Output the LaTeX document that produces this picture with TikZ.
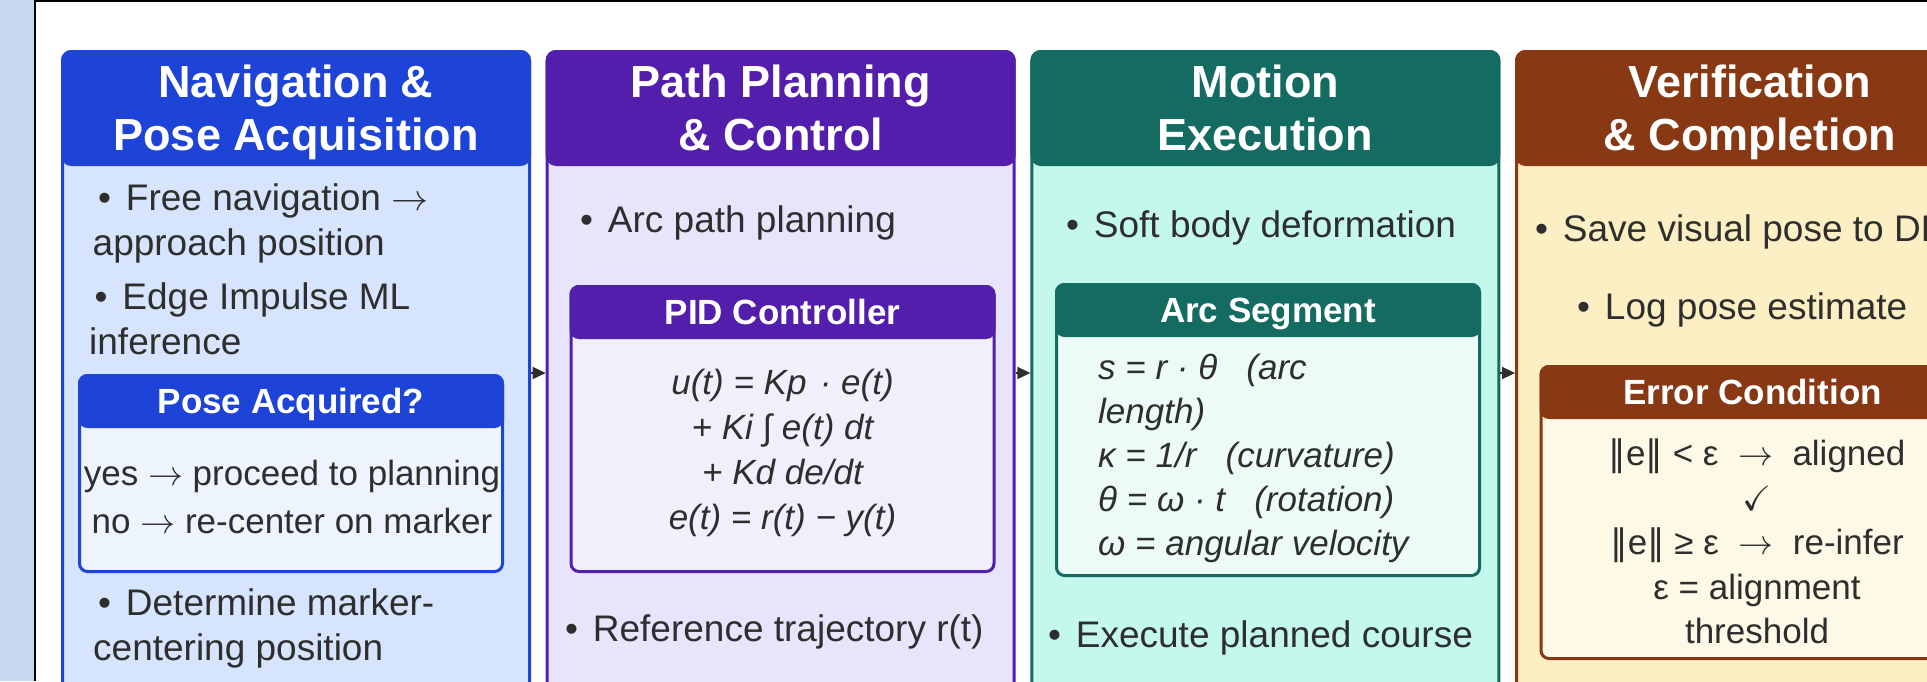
\RequirePackage{fix-cm}
\documentclass[tikz,border=0pt]{standalone}
\usepackage{amssymb}
\usepackage{fontspec}
\setmainfont{Liberation Sans}
\newfontfamily\symfont{DejaVu Sans}
\usetikzlibrary{positioning, arrows.meta}
\definecolor{ink}{HTML}{2E2E2E}
\definecolor{strip}{HTML}{C6D9F1}
\definecolor{navhd}{HTML}{1D44D6}
\definecolor{navbg}{HTML}{D6E5FD}
\definecolor{navin}{HTML}{EDF4FE}
\definecolor{plnhd}{HTML}{531EAB}
\definecolor{plnbg}{HTML}{E8E4FB}
\definecolor{plnin}{HTML}{F1EFFC}
\definecolor{exehd}{HTML}{136B61}
\definecolor{exebg}{HTML}{C4F8EC}
\definecolor{exein}{HTML}{ECFBF7}
\definecolor{verhd}{HTML}{883913}
\definecolor{verbg}{HTML}{FDEFC4}
\definecolor{verin}{HTML}{FEF8E6}
\tikzset{
  panel/.style  = {rectangle, rounded corners=9pt, draw=#1hd, fill=#1bg, line width=3pt,
                   minimum width=467pt, minimum height=643pt, inner sep=0pt},
  phead/.style  = {rectangle, rounded corners=9pt, draw=#1hd, fill=#1hd, line width=3pt,
                   minimum width=467pt, minimum height=113pt, inner sep=0pt, anchor=north},
  ptitle/.style = {text=white, font=\fontsize{45}{53}\selectfont\bfseries, align=center,
                   inner sep=0pt},
  bul/.style    = {text=ink, font=\fontsize{37}{45}\selectfont, align=left, inner sep=0pt,
                   anchor=north west},
  sbox/.style   = {rectangle, rounded corners=8pt, draw=#1hd, fill=#1in, line width=3pt,
                   minimum width=423pt, inner sep=0pt, anchor=north},
  shead/.style  = {rectangle, rounded corners=8pt, draw=#1hd, fill=#1hd, line width=3pt,
                   minimum width=423pt, minimum height=51pt, inner sep=0pt, anchor=north,
                   text=white, font=\fontsize{35}{42}\selectfont\bfseries,
                   text height=25pt, text depth=0pt},
  sline/.style  = {text=ink, font=\fontsize{35}{44.5}\selectfont, align=center,
                   inner sep=0pt, anchor=north},
  flow/.style   = {-{Triangle[length=13pt, width=12pt]}, line width=1.5pt, draw=ink},
}
\newcommand{\blt}{\textbullet\hspace{0.4em}}
\newcommand{\ra}{$\rightarrow$}
\newcommand{\nrm}{{\symfont ‖}}

\begin{document}
\begin{tikzpicture}[x=1pt, y=-1pt]
  \useasboundingbox (0,0) rectangle (1927,681);
  \clip (0,0) rectangle (1927,681);
  \fill[strip] (0,0) rectangle (34,681);
  \draw[line width=2.2pt] (35,681) -- (35,1.1) -- (1927,1.1);

  % the four stages
  \node[panel=nav, anchor=north west] (nav) at (61,50) {};
  \node[panel=pln, right=14.7pt of nav] (pln) {};
  \node[panel=exe, right=14.7pt of pln] (exe) {};
  \node[panel=ver, right=14.7pt of exe] (ver) {};

  \node[phead=nav] (navh) at (nav.north) {};
  \node[phead=pln] (plnh) at (pln.north) {};
  \node[phead=exe] (exeh) at (exe.north) {};
  \node[phead=ver] (verh) at (ver.north) {};

  \node[ptitle, below=15pt of navh.north] (navt) {Navigation \&\\Pose Acquisition};
  \node[ptitle, below=15pt of plnh.north] (plnt) {Path Planning\\\& Control};
  \node[ptitle, below=15pt of exeh.north] (exet) {Motion\\Execution};
  \node[ptitle, below=15pt of verh.north] (vert) {Verification\\\& Completion};

  % navigation
  \node[bul] (nav1) at (92.5,183) {\hspace*{5.5pt}\blt Free navigation \ra\\approach position};
  \node[bul] (nav2) at (89,282) {\hspace*{5.5pt}\blt Edge Impulse ML\\inference};
  \node[sbox=nav, minimum height=196pt] (pose) at (291,374) {};
  \node[shead=nav] (poseh) at (pose.north) {Pose Acquired?};
  \node[sline, font=\fontsize{35}{48}\selectfont] (posetx) at (292,460)
    {yes \ra\ proceed to planning\\no \ra\ re-center on marker};
  \node[bul] (nav3) at (93,588) {\hspace*{5pt}\blt Determine marker-\\centering position};

  % planning
  \node[bul] (pln1) at (580,205) {\blt Arc path planning};
  \node[sbox=pln, minimum height=285pt] (pid) at (782.5,285) {};
  \node[shead=pln] (pidh) at (pid.north) {PID Controller};
  \node[sline, font=\fontsize{35}{45}\selectfont\itshape] (pidtx) at (782.5,369)
    {u(t) = Kp\hspace{0.38em}· e(t)\\+ Ki ∫ e(t) dt\\+ Kd de/dt\\e(t) = r(t) − y(t)};
  \node[bul] (pln2) at (565,614) {\blt Reference trajectory r(t)};

  % execution
  \node[bul] (exe1) at (1066,210) {\blt Soft body deformation};
  \node[sbox=exe, minimum height=291pt] (arc) at (1268,283) {};
  \node[shead=exe] (arch) at (arc.north) {Arc Segment};
  \node[sline, align=left, anchor=north west, font=\fontsize{35}{44}\selectfont\itshape]
    (arctx) at (1098,354)
    {s = r · θ~~~(arc\\length)\\κ = 1/r~~~(curvature)\\θ = ω · t~~~(rotation)\\ω = angular velocity};
  \node[bul] (exe2) at (1048,620) {\blt Execute planned course};

  % verification
  \node[bul] (ver1) at (1535,214) {\blt Save visual pose to DB};
  \node[bul] (ver2) at (1577,292) {\blt Log pose estimate};
  \node[sbox=ver, minimum height=292pt] (err) at (1752.5,365) {};
  \node[shead=ver] (errh) at (err.north) {Error Condition};
  \node[sline] (errtx) at (1757,439)
    {\nrm e\nrm\ < ε ~\ra~ aligned\\$\checkmark$\\\nrm e\nrm\ ≥ ε ~\ra~ re-infer\\ε = alignment\\threshold};

  \draw[flow] (nav) -- (pln);
  \draw[flow] (pln) -- (exe);
  \draw[flow] (exe) -- (ver);
\end{tikzpicture}
\end{document}
